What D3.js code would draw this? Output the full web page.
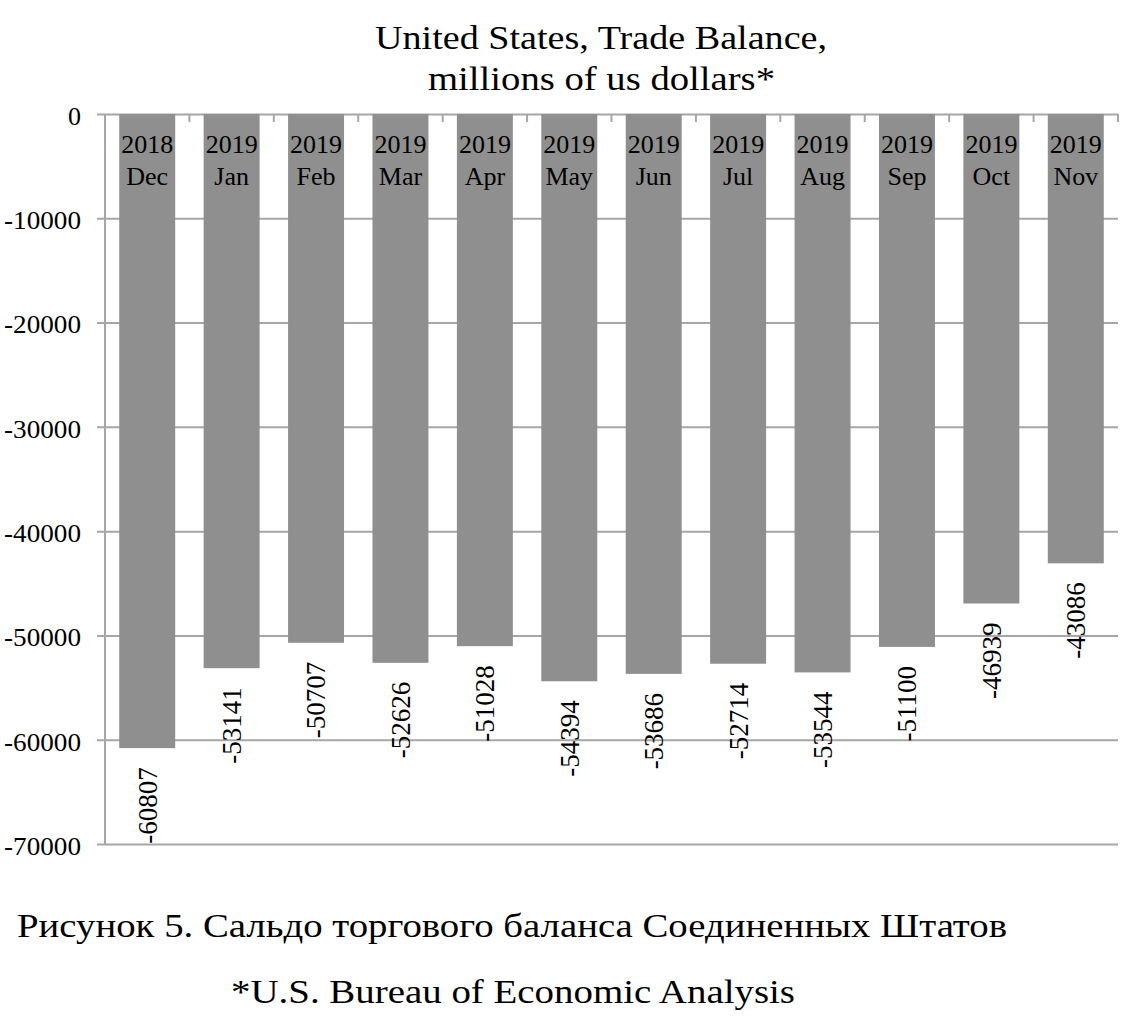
<!DOCTYPE html>
<html>
<head>
<meta charset="utf-8">
<script src="https://cdn.jsdelivr.net/npm/d3@7"></script>
<style>
  body { margin: 0; background: #fff; }
  svg text { font-family: "Liberation Serif", "Times New Roman", serif; fill: #000; }
</style>
</head>
<body>
<div id="chart"></div>
<script>
'use strict';

// data
var years = ['2018', '2019', '2019', '2019', '2019', '2019', '2019', '2019', '2019', '2019', '2019', '2019'];
var months = ['Dec', 'Jan', 'Feb', 'Mar', 'Apr', 'May', 'Jun', 'Jul', 'Aug', 'Sep', 'Oct', 'Nov'];
var balance = [-60807, -53141, -50707, -52626, -51028, -54394, -53686, -52714, -53544, -51100, -46939, -43086];
var yTicks = [0, -10000, -20000, -30000, -40000, -50000, -60000, -70000];

var width = 1147, height = 1025;
var plotLeft = 105, plotRight = 1118, plotTop = 114, plotBottom = 844;
var gridColor = '#a6a6a6';
var barColor = '#8f8f8f';
var serif = '"Liberation Serif", "Times New Roman", serif';

var svg = d3.select('#chart')
  .append('svg')
    .attr('width', width)
    .attr('height', height)
    .style('font-family', serif);

var x = d3.scaleBand()
  .domain(d3.range(balance.length))
  .range([plotLeft, plotRight])
  .paddingInner(0.337)
  .paddingOuter(0.1685);

var y = d3.scaleLinear()
  .domain([-70000, 0])
  .range([plotBottom, plotTop]);

// gridlines + y axis
var yAxis = d3.axisLeft(y)
  .tickValues(yTicks)
  .tickSize(-(plotRight - plotLeft))
  .tickFormat(function(d){ return String(d); });

var gy = svg.append('g')
  .attr('transform', 'translate(' + plotLeft + ',0)')
  .call(yAxis)
  .attr('font-family', null);
gy.select('.domain').remove();
gy.selectAll('.tick line')
  .attr('x1', -8)
  .attr('stroke', gridColor)
  .attr('stroke-width', 2);
gy.selectAll('.tick text')
  .style('font-family', serif)
  .attr('font-size', 26)
  .attr('fill', '#000')
  .attr('x', -24)
  .attr('dy', '0.4em')
  .attr('textLength', function(d){ return d === 0 ? null : 77; })
  .attr('lengthAdjust', 'spacingAndGlyphs');

// category ticks hanging from the zero line
var boundaries = d3.range(1, balance.length + 1).map(function(i){ return plotLeft + i * x.step(); });
svg.append('g').selectAll('line')
  .data(boundaries)
  .enter().append('line')
    .attr('x1', function(d){ return d; })
    .attr('x2', function(d){ return d; })
    .attr('y1', plotTop)
    .attr('y2', plotTop + 8)
    .attr('stroke', gridColor)
    .attr('stroke-width', 2);

// bars
svg.append('g').selectAll('rect')
  .data(balance)
  .enter().append('rect')
    .attr('x', function(d, i){ return x(i); })
    .attr('y', y(0))
    .attr('width', x.bandwidth())
    .attr('height', function(d){ return y(d) - y(0); })
    .attr('fill', barColor);

// vertical axis line
svg.append('line')
  .attr('x1', plotLeft).attr('x2', plotLeft)
  .attr('y1', plotTop).attr('y2', plotBottom)
  .attr('stroke', gridColor)
  .attr('stroke-width', 2);

// category labels inside bars
var cat = svg.append('g').selectAll('text')
  .data(balance)
  .enter().append('text')
    .attr('text-anchor', 'middle')
    .attr('font-size', 26);
cat.append('tspan')
  .attr('x', function(d, i){ return x(i) + x.bandwidth() / 2; })
  .attr('y', 153)
  .text(function(d, i){ return years[i]; });
cat.append('tspan')
  .attr('x', function(d, i){ return x(i) + x.bandwidth() / 2; })
  .attr('y', 185)
  .text(function(d, i){ return months[i]; });

// value labels under the bars, rotated
svg.append('g').selectAll('text')
  .data(balance)
  .enter().append('text')
    .attr('font-size', 27)
    .attr('text-anchor', 'end')
    .attr('dy', '0.35em')
    .attr('transform', function(d, i){
      var cx = x(i) + x.bandwidth() / 2;
      return 'translate(' + cx + ',' + (y(d) + 19) + ') rotate(-90)';
    })
    .text(function(d){ return String(d); });

// title
svg.append('text')
  .attr('x', 375).attr('y', 49)
  .attr('font-size', 34)
  .attr('textLength', 452)
  .attr('lengthAdjust', 'spacingAndGlyphs')
  .text('United States, Trade Balance,');
svg.append('text')
  .attr('x', 428).attr('y', 90)
  .attr('font-size', 34)
  .attr('textLength', 347)
  .attr('lengthAdjust', 'spacingAndGlyphs')
  .text('millions of us dollars*');

// caption
svg.append('text')
  .attr('x', 17)
  .attr('y', 937)
  .attr('font-size', 34)
  .attr('textLength', 990)
  .attr('lengthAdjust', 'spacingAndGlyphs')
  .text('Рисунок 5. Сальдо торгового баланса Соединенных Штатов');

svg.append('text')
  .attr('x', 231)
  .attr('y', 1003)
  .attr('font-size', 34)
  .attr('textLength', 564)
  .attr('lengthAdjust', 'spacingAndGlyphs')
  .text('*U.S. Bureau of Economic Analysis');
</script>
</body>
</html>
